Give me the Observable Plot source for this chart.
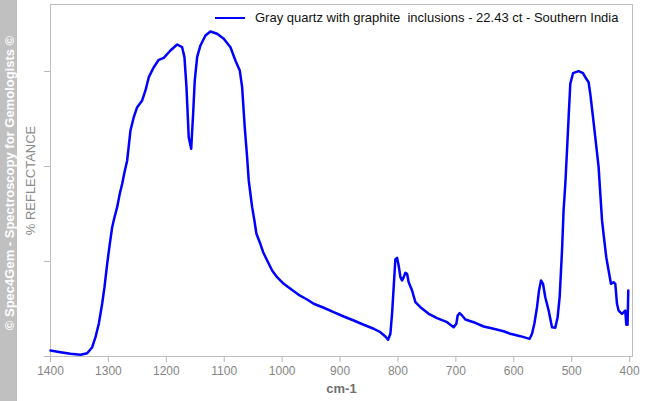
<!DOCTYPE html>
<html>
<head>
<meta charset="utf-8">
<script src="https://cdn.jsdelivr.net/npm/d3@7"></script>
<script src="https://cdn.jsdelivr.net/npm/@observablehq/plot@0.6"></script>
<style>
  html, body { margin: 0; padding: 0; background: #fff; }
  #wrap { position: relative; width: 646px; height: 401px; overflow: hidden; font-family: "Liberation Sans", Arial, sans-serif; }
  #side { position: absolute; left: 0; top: 0; width: 17px; height: 401px; background: #c0c0c0; }
  #sideText { position: absolute; left: 8.5px; top: 183px; transform: translate(-50%, -50%) rotate(-90deg); white-space: nowrap; color: #fff; font-weight: bold; font-size: 13px; }
  #legLine { position: absolute; left: 215px; top: 17px; width: 30px; height: 2px; background: #0000ff; }
  #legText { position: absolute; left: 255px; top: 10px; font-size: 13px; color: #111; white-space: pre; line-height: 16px; }
</style>
</head>
<body>
<div id="wrap">
  <div id="chart"></div>
  <div id="side"><div id="sideText">© Spec4Gem - Spectroscopy for Gemologists ©</div></div>
  <div id="legLine"></div>
  <div id="legText"></div>
</div>
<script>
const seriesName = "Gray quartz with graphite  inclusions - 22.43 ct - Southern India";
const yLabel = "% REFLECTANCE";
const xLabel = "cm-1";
const xTicks = [1400, 1300, 1200, 1100, 1000, 900, 800, 700, 600, 500, 400];
const yTicks = [0, 10, 20, 30];

const wavenumber = [
  1400, 1382.7, 1365.5, 1348.2, 1336.6, 1328.0, 1322.3, 1316.6, 1310.8, 1306.8,
  1302.1, 1297.6, 1293.5, 1289.5, 1284.9, 1280.4, 1276.2, 1272.3, 1267.6, 1261.9,
  1256.2, 1250.3, 1241.7, 1236.0, 1230.3, 1221.7, 1213.0, 1204.4, 1192.9, 1181.3,
  1172.7, 1168.7, 1165.2, 1161.3, 1157.1, 1153.7, 1150.9, 1146.8, 1141.1, 1132.4,
  1123.8, 1112.3, 1100.8, 1089.3, 1080.7, 1073.2, 1069.1, 1064.6, 1060.5, 1057.7,
  1054.8, 1051.8, 1047.9, 1044.4, 1038.7, 1032.8, 1025.9, 1017.3, 1008.7, 997.3,
  985.7, 971.4, 956.9, 945.5, 928.2, 911.0, 893.7, 876.4, 859.2, 841.9,
  830.4, 821.7, 817.1, 813.1, 810.2, 807.4, 804.5, 801.5, 798.8, 795.8,
  792.9, 790.1, 787.2, 784.3, 781.5, 775.6, 769.9, 761.3, 746.9, 732.5,
  715.2, 703.8, 699.2, 696.9, 693.5, 689.3, 683.6, 669.3, 652.1, 634.8,
  617.5, 605.9, 588.7, 572.6, 568.5, 564.5, 559.9, 556.4, 553.0, 549.5,
  545.6, 539.8, 534.0, 528.3, 524.3, 520.8, 516.7, 514.0, 511.0, 508.1,
  505.3, 502.4, 497.7, 488.0, 480.5, 474.8, 470.8, 467.9, 463.2, 459.3,
  453.5, 450.6, 447.6, 443.7, 440.3, 436.3, 432.2, 427.7, 424.7, 421.8,
  419.0, 413.2, 407.5, 405.7, 404.5, 403.5, 402.3
];
const reflectance = [
  0.63, 0.45, 0.28, 0.18, 0.35, 0.98, 2.03, 3.44, 5.55, 7.29,
  9.76, 11.86, 13.61, 14.66, 15.72, 17.13, 18.18, 19.37, 20.63, 23.79,
  25.19, 26.24, 26.95, 28.00, 29.40, 30.45, 31.23, 31.44, 32.21, 32.84,
  32.56, 31.51, 28.35, 23.08, 21.86, 25.55, 29.05, 31.51, 32.74, 33.79,
  34.21, 33.97, 33.44, 32.56, 31.16, 30.11, 28.35, 24.14, 20.98, 18.53,
  17.13, 15.72, 14.32, 12.92, 12.03, 10.98, 10.11, 9.05, 8.35, 7.65,
  7.13, 6.49, 6.00, 5.55, 5.13, 4.66, 4.21, 3.79, 3.34, 2.92,
  2.56, 2.11, 1.76, 2.39, 4.49, 7.29, 10.21, 10.39, 9.58, 8.35,
  8.00, 8.35, 8.81, 8.71, 7.82, 6.95, 5.72, 5.19, 4.49, 4.03,
  3.61, 3.08, 3.44, 4.32, 4.56, 4.32, 3.89, 3.61, 3.16, 2.92,
  2.66, 2.39, 2.14, 1.86, 2.39, 3.44, 5.19, 6.95, 8.00, 7.65,
  6.24, 4.84, 3.08, 3.02, 4.14, 6.24, 11.16, 15.37, 18.18, 21.68,
  25.19, 28.71, 29.82, 30.03, 29.82, 29.23, 28.87, 27.65, 25.19, 23.08,
  19.93, 17.13, 14.32, 12.21, 10.45, 9.05, 7.65, 7.82, 7.65, 5.55,
  4.84, 4.49, 4.84, 3.34, 4.2, 3.34, 6.95
];

const data = wavenumber.map((w, i) => ({w, r: reflectance[i]}));

document.getElementById("legText").textContent = seriesName;

const chart = Plot.plot({
  width: 646,
  height: 401,
  marginLeft: 50,
  marginRight: 14,
  marginTop: 4,
  marginBottom: 45,
  style: {fontFamily: "'Liberation Sans', Arial, sans-serif", background: "transparent"},
  x: {domain: [1400, 395]},
  y: {domain: [0, 37.05]},
  marks: [
    Plot.frame({stroke: "#c0c0c0"}),
    Plot.axisX({ticks: xTicks, tickFormat: d => String(d), stroke: "#b8b8b8", fill: "#858585", fontSize: 12, tickSize: 6, tickPadding: 4, label: null}),
    Plot.axisY({ticks: yTicks, tickFormat: () => "", stroke: "#b8b8b8", tickSize: 6, label: null}),
    Plot.text([xLabel], {frameAnchor: "bottom", dy: 32, text: d => d, fontSize: 13, fontWeight: "bold", fill: "#707070", textAnchor: "middle", lineAnchor: "middle"}),
    Plot.text([yLabel], {frameAnchor: "left", dx: -20, text: d => d, rotate: -90, fontSize: 13, fill: "#8a8a8a", textAnchor: "middle", lineAnchor: "middle"}),
    Plot.line(data, {x: "w", y: "r", stroke: "#0000ff", strokeWidth: 2.5, curve: "linear"})
  ]
});
document.getElementById("chart").appendChild(chart);
</script>
</body>
</html>
